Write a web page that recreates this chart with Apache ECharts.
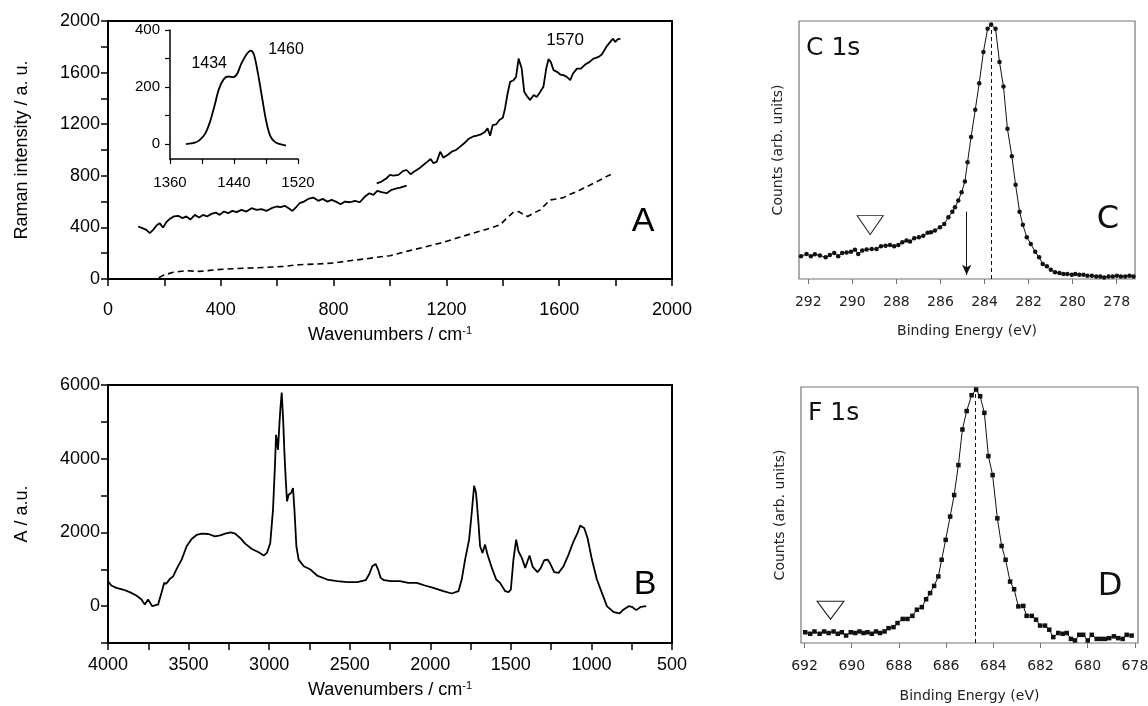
<!DOCTYPE html>
<html>
<head>
<meta charset="utf-8">
<script src="https://cdn.jsdelivr.net/npm/echarts@6/dist/echarts.min.js"></script>
<style>
  html, body { margin: 0; padding: 0; background: #fff; }
  #chart { width: 1148px; height: 706px; }
</style>
</head>
<body>
<div id="chart"></div>
<script>
// Panel A - Raman spectra (two solid pieces + dashed)
const aLowX = [107,122,136,148,160,172,183,195,207,219,233,249,264,278,292,308,323,337,351,367,382,396,411,426,441,456,473,491,509,527,544,562,580,598,612,627,643,654,669,680,695,710,728,746,761,778,793,808,825,840,858,876,893,911,927,941,955,970,988,1006,1024,1036,1059];
const aLowY = [407,394,381,356,381,415,433,399,441,466,485,490,472,485,461,497,477,497,485,505,515,497,523,510,528,518,536,523,549,536,541,528,549,562,557,567,544,528,562,588,600,621,631,606,621,600,613,600,580,600,595,606,595,639,665,652,683,673,665,691,703,709,724];
const aHighX = [953,970,988,1000,1012,1030,1047,1059,1073,1089,1104,1118,1133,1144,1154,1166,1178,1189,1204,1219,1234,1249,1263,1278,1293,1308,1322,1337,1346,1355,1364,1376,1388,1400,1408,1417,1426,1438,1447,1456,1462,1467,1476,1485,1497,1509,1521,1533,1544,1554,1562,1570,1580,1592,1604,1615,1627,1639,1649,1663,1677,1692,1708,1722,1740,1751,1767,1781,1791,1799,1807,1817];
const aHighY = [742,755,781,807,802,807,838,845,812,838,858,884,910,930,897,910,987,941,961,987,1000,1026,1052,1085,1103,1111,1121,1142,1168,1111,1193,1198,1232,1250,1322,1438,1528,1541,1567,1709,1722,1631,1451,1420,1387,1425,1412,1451,1490,1631,1704,1683,1619,1606,1585,1580,1567,1541,1593,1631,1631,1662,1683,1709,1722,1740,1799,1838,1863,1838,1858,1863];
const aDashX = [110,148,183,195,231,278,325,385,444,503,562,621,680,740,799,858,917,976,1000,1059,1118,1178,1237,1296,1355,1391,1414,1438,1456,1471,1488,1509,1533,1550,1568,1592,1615,1639,1663,1686,1710,1734,1757,1775,1787];
const aDashY = [0,-5,13,28,52,64,59,72,80,85,90,98,111,116,124,142,157,175,180,214,245,278,317,356,394,420,472,518,523,503,485,510,536,575,613,621,631,657,678,704,729,755,781,802,812];

// inset of panel A
const insetX = [1380,1391,1397,1404,1410,1416,1421,1427,1433,1439,1444,1449,1456,1461,1465,1470,1475,1480,1485,1491,1499,1505];
const insetY = [0,5,14,37,78,138,192,227,237,235,247,281,316,328,313,247,165,84,31,8,-1,-5];

// Panel B - IR spectrum
const bX = [4000,3979,3948,3907,3865,3824,3792,3772,3751,3740,3726,3709,3689,3668,3651,3637,3616,3595,3574,3543,3512,3481,3450,3419,3377,3336,3304,3273,3238,3211,3180,3149,3107,3065,3034,3014,2993,2976,2965,2957,2951,2945,2936,2930,2922,2913,2905,2897,2889,2879,2864,2852,2843,2831,2817,2785,2744,2702,2640,2578,2515,2453,2401,2380,2360,2339,2324,2308,2287,2245,2188,2136,2084,2033,1981,1919,1867,1825,1805,1784,1759,1743,1728,1716,1701,1691,1676,1660,1645,1618,1591,1567,1535,1515,1500,1484,1467,1453,1432,1411,1384,1364,1335,1314,1293,1272,1256,1231,1204,1173,1142,1111,1086,1070,1045,1024,997,966,935,904,862,825,800,769,749,722,693,660];
const bY = [677,560,496,451,379,289,180,45,180,162,0,18,45,361,632,614,740,812,1011,1263,1625,1823,1931,1967,1958,1895,1922,1967,2003,1967,1850,1697,1552,1462,1372,1444,1715,2617,3700,4648,4467,4242,4964,5370,5794,5054,4152,3430,2843,3023,3069,3204,2617,1625,1263,1083,993,830,722,677,650,650,704,857,1083,1146,993,767,704,677,677,632,632,560,496,406,343,406,722,1263,1805,2527,3267,3069,2256,1625,1444,1670,1399,1038,722,632,406,379,451,1263,1805,1489,1309,1038,1372,1065,921,1038,1245,1263,1155,921,902,1083,1399,1760,1985,2184,2121,1850,1263,722,361,0,-162,-199,-90,0,-18,-108,-18,0];

// Panel C - C 1s XPS
const cX = [292.33,292.08,291.88,291.70,291.47,291.21,291.02,290.82,290.64,290.46,290.26,290.06,289.88,289.73,289.55,289.35,289.12,288.90,288.70,288.49,288.29,288.10,287.91,287.73,287.54,287.38,287.19,286.98,286.78,286.58,286.43,286.25,286.02,285.83,285.64,285.46,285.34,285.19,285.04,284.89,284.77,284.61,284.42,284.24,284.05,283.86,283.70,283.50,283.32,283.14,282.96,282.76,282.59,282.41,282.26,282.08,281.90,281.70,281.52,281.36,281.17,280.99,280.80,280.60,280.42,280.24,280.04,279.88,279.70,279.51,279.33,279.13,278.93,278.75,278.57,278.37,278.18,277.99,277.81,277.61,277.42,277.24];
const cY = [8.8,9.7,8.8,9.6,9.1,8.4,9.3,10.1,8.8,10.1,10.3,10.6,11.3,9.7,11.0,11.4,11.6,11.6,12.7,12.9,13.2,12.7,13.2,14.2,14.9,14.5,15.8,16.2,16.8,17.9,18.1,18.8,20.1,21.3,23.9,26.1,27.8,30.4,33.6,37.8,45.3,55.0,65.6,75.9,88.0,97.0,98.6,97.0,84.1,74.6,58.2,47.6,36.5,26.1,21.0,16.2,13.6,10.6,8.4,5.8,4.9,3.6,2.6,2.3,1.9,1.9,1.6,1.9,1.6,1.6,1.3,1.3,1.0,1.0,0.6,1.0,1.0,1.3,1.0,1.0,1.3,1.0];

// Panel D - F 1s XPS
const dX = [691.97,691.76,691.58,691.36,691.17,690.98,690.77,690.59,690.42,690.24,690.04,689.85,689.67,689.50,689.33,689.15,688.97,688.80,688.61,688.44,688.23,688.06,687.84,687.64,687.43,687.24,687.03,686.85,686.68,686.51,686.33,686.19,686.02,685.83,685.66,685.48,685.31,685.13,684.92,684.73,684.56,684.38,684.21,684.03,683.83,683.65,683.48,683.29,683.12,682.94,682.73,682.59,682.37,682.19,682.02,681.81,681.63,681.46,681.25,681.06,680.89,680.71,680.54,680.36,680.19,680.00,679.83,679.62,679.45,679.27,679.09,678.89,678.71,678.52,678.35,678.14];
const dY = [4.2,3.6,4.5,3.6,4.5,3.9,4.5,3.6,4.2,2.9,4.2,3.9,4.5,3.9,4.2,3.6,4.5,3.9,4.5,5.8,6.2,7.8,9.4,9.4,10.6,13.0,14.0,17.1,19.5,22.3,26.0,32.5,40.3,49.4,57.8,69.5,83.4,90.6,96.8,99.0,96.4,89.9,73.0,65.6,48.7,37.9,32.5,24.0,21.0,14.3,14.5,10.6,10.6,9.1,6.8,6.8,5.2,2.3,3.9,3.6,3.9,1.6,1.0,3.2,3.2,1.0,3.2,1.6,1.6,1.6,1.9,2.6,1.9,1.6,3.2,2.9];

// tick labels
const cTicks = [278, 280, 282, 284, 286, 288, 290, 292];
const dTicks = [678, 680, 682, 684, 686, 688, 690, 692];
const insetYTicks = [0, 100, 200, 300, 400];
const insetYLabels = [0, 200, 400];

// peak positions / annotations
const cPeak = 283.7, cArrow = 284.81, cTriangle = 289.19;
const dPeak = 684.75, dTriangle = 690.9;

const zip = (xs, ys) => xs.map((x, i) => [x, ys[i]]);

const ARIAL = '"Liberation Sans", Arial, sans-serif';
const GENEVA = '"DejaVu Sans", sans-serif';

const wnName = {
  name: '{a|Wavenumbers / cm}{s|-1}',
  nameLocation: 'middle',
  nameTextStyle: {
    rich: {
      a: { fontFamily: ARIAL, fontSize: 18, color: '#000', lineHeight: 20 },
      s: { fontFamily: ARIAL, fontSize: 11, color: '#000', verticalAlign: 'top', lineHeight: 12 },
    },
  },
};

function blackAxis(fmt, fontSize, margin) {
  return {
    axisLine: { show: true, onZero: false, lineStyle: { color: '#000', width: 2 } },
    axisTick: { show: true, length: 7, lineStyle: { color: '#000', width: 1.5 } },
    axisLabel: { color: '#000', fontFamily: ARIAL, fontSize: fontSize || 18, formatter: fmt, margin: margin || 8 },
    splitLine: { show: false },
  };
}

function xpsX(min, max, ticks, gridIndex, gap) {
  return {
    type: 'value', gridIndex, min, max, inverse: true,
    axisLine: { show: false },
    axisTick: { show: true, customValues: ticks, length: 5, lineStyle: { color: '#777', width: 1 } },
    axisLabel: { customValues: ticks, color: '#222', fontFamily: GENEVA, fontSize: 14, margin: 16 },
    splitLine: { show: false },
    name: 'Binding Energy (eV)', nameLocation: 'middle', nameGap: gap,
    nameTextStyle: { color: '#222', fontFamily: GENEVA, fontSize: 14 },
  };
}

function xpsY(gridIndex) {
  return {
    type: 'value', gridIndex, min: 0, max: 100,
    axisLine: { show: false }, axisTick: { show: false }, axisLabel: { show: false },
    splitLine: { show: false },
    name: 'Counts (arb. units)', nameLocation: 'middle', nameGap: 14,
    nameTextStyle: { color: '#222', fontFamily: GENEVA, fontSize: 14 },
  };
}

const insetYAxis = blackAxis(null, 15, 10);
insetYAxis.axisLine.lineStyle.width = 1.5;
insetYAxis.axisTick = { show: true, length: 5, customValues: insetYTicks, lineStyle: { color: '#000', width: 1.2 } };
insetYAxis.axisLabel.customValues = insetYLabels;

const insetXAxis = blackAxis(v => ((v - 1360) % 80 === 0 ? String(v) : ''), 15, 16);
insetXAxis.axisLine.lineStyle.width = 1.5;
insetXAxis.axisTick.length = 5;
insetXAxis.axisTick.lineStyle.width = 1.2;

const chart = echarts.init(document.getElementById('chart'), null, { renderer: 'canvas' });

chart.setOption({
  animation: false,
  backgroundColor: '#fff',
  grid: [
    { left: 108, top: 21, width: 564, height: 258, show: true, borderColor: '#000', borderWidth: 2, outerBoundsMode: 'none' },
    { left: 170, top: 30, width: 128, height: 129, outerBoundsMode: 'none' },
    { left: 108, top: 385, width: 564, height: 258, show: true, borderColor: '#000', borderWidth: 2, outerBoundsMode: 'none' },
    { left: 799, top: 21, width: 336, height: 258, show: true, borderColor: '#777', borderWidth: 1.2, outerBoundsMode: 'none' },
    { left: 801, top: 387, width: 337, height: 256, show: true, borderColor: '#777', borderWidth: 1.2, outerBoundsMode: 'none' },
  ],
  xAxis: [
    Object.assign({ type: 'value', gridIndex: 0, min: 0, max: 2000, interval: 200 },
      blackAxis(v => (v % 400 === 0 ? String(v) : ''), 18, 22),
      wnName, { nameGap: 46 }),
    Object.assign({ type: 'value', gridIndex: 1, min: 1360, max: 1520, interval: 40 }, insetXAxis),
    Object.assign({ type: 'value', gridIndex: 2, min: 500, max: 4000, interval: 250, inverse: true },
      blackAxis(v => (v % 500 === 0 ? String(v) : ''), 18, 13),
      wnName, { nameGap: 37 }),
    xpsX(277.17, 292.42, cTicks, 3, 45),
    xpsX(677.87, 692.15, dTicks, 4, 46),
  ],
  yAxis: [
    Object.assign({ type: 'value', gridIndex: 0, min: 0, max: 2000, interval: 200 },
      blackAxis(v => (v % 400 === 0 ? String(v) : '')),
      { name: 'Raman intensity / a. u.', nameLocation: 'middle', nameGap: 77,
        nameTextStyle: { fontFamily: ARIAL, fontSize: 18, color: '#000' } }),
    Object.assign({ type: 'value', gridIndex: 1, min: -52, max: 400 }, insetYAxis),
    Object.assign({ type: 'value', gridIndex: 2, min: -1000, max: 6000, interval: 1000 },
      blackAxis(v => (v % 2000 === 0 ? String(v) : '')),
      { name: 'A / a.u.', nameLocation: 'middle', nameGap: 77,
        nameTextStyle: { fontFamily: ARIAL, fontSize: 18, color: '#000' } }),
    xpsY(3),
    xpsY(4),
  ],
  series: [
    {
      type: 'line', xAxisIndex: 0, yAxisIndex: 0, data: zip(aLowX, aLowY),
      showSymbol: false, lineStyle: { color: '#000', width: 1.8 },
    },
    {
      type: 'line', xAxisIndex: 0, yAxisIndex: 0, data: zip(aHighX, aHighY),
      showSymbol: false, lineStyle: { color: '#000', width: 1.8 },
      markPoint: {
        symbol: 'circle', symbolSize: 1, itemStyle: { color: 'rgba(0,0,0,0)' },
        label: { show: true, position: 'inside', color: '#000', fontFamily: ARIAL, fontSize: 17, formatter: p => p.name },
        data: [{ name: '1570', coord: [1621, 1850] }],
      },
    },
    {
      type: 'line', xAxisIndex: 0, yAxisIndex: 0, data: zip(aDashX, aDashY),
      showSymbol: false, lineStyle: { color: '#000', width: 1.6, type: [6, 4] },
    },
    {
      type: 'line', xAxisIndex: 1, yAxisIndex: 1, data: zip(insetX, insetY),
      showSymbol: false, smooth: 0.3, lineStyle: { color: '#000', width: 1.8 },
      markPoint: {
        symbol: 'circle', symbolSize: 1, itemStyle: { color: 'rgba(0,0,0,0)' },
        label: { show: true, position: 'inside', color: '#000', fontFamily: ARIAL, fontSize: 16, formatter: p => p.name },
        data: [{ name: '1434', coord: [1409, 284] }, { name: '1460', coord: [1505, 333] }],
      },
    },
    {
      type: 'line', xAxisIndex: 2, yAxisIndex: 2, data: zip(bX, bY),
      showSymbol: false, lineStyle: { color: '#000', width: 1.8 },
    },
    {
      type: 'line', xAxisIndex: 3, yAxisIndex: 3, data: zip(cX, cY),
      symbol: 'circle', symbolSize: 4.5, showSymbol: true,
      lineStyle: { color: '#111', width: 1 }, itemStyle: { color: '#111' },
      markLine: {
        silent: true, symbol: 'none', label: { show: false },
        lineStyle: { color: '#111', width: 1, type: [4, 3] },
        data: [
          [{ coord: [cPeak, 0] }, { coord: [cPeak, 98.6] }],
          [{ coord: [cArrow, 26.1], symbol: 'none' },
           { coord: [cArrow, 1.6], symbol: 'arrow', symbolSize: [7, 10], lineStyle: { type: 'solid' } }],
        ],
      },
      markPoint: {
        silent: true, label: { show: false },
        data: [{ coord: [cTriangle, 20.9], symbol: 'triangle', symbolRotate: 180, symbolSize: [26, 19],
          itemStyle: { color: '#fff', borderColor: '#222', borderWidth: 1 } }],
      },
    },
    {
      type: 'line', xAxisIndex: 4, yAxisIndex: 4, data: zip(dX, dY),
      symbol: 'rect', symbolSize: 4.5, showSymbol: true,
      lineStyle: { color: '#111', width: 1 }, itemStyle: { color: '#111' },
      markLine: {
        silent: true, symbol: 'none', label: { show: false },
        lineStyle: { color: '#111', width: 1, type: [4, 3] },
        data: [[{ coord: [dPeak, 0] }, { coord: [dPeak, 99] }]],
      },
      markPoint: {
        silent: true, label: { show: false },
        data: [{ coord: [dTriangle, 12.8], symbol: 'triangle', symbolRotate: 180, symbolSize: [27, 18],
          itemStyle: { color: '#fff', borderColor: '#222', borderWidth: 1 } }],
      },
    },
  ],
  graphic: [
    { type: 'text', x: 643, y: 222, style: { text: 'A', font: '34px ' + ARIAL, fill: '#000', align: 'center', verticalAlign: 'middle' } },
    { type: 'text', x: 645, y: 585, style: { text: 'B', font: '34px ' + ARIAL, fill: '#000', align: 'center', verticalAlign: 'middle' } },
    { type: 'text', x: 806, y: 48, style: { text: 'C 1s', font: '25px ' + GENEVA, fill: '#111', align: 'left', verticalAlign: 'middle' } },
    { type: 'text', x: 808, y: 413, style: { text: 'F 1s', font: '25px ' + GENEVA, fill: '#111', align: 'left', verticalAlign: 'middle' } },
    { type: 'text', x: 1108, y: 220, style: { text: 'C', font: '32px ' + GENEVA, fill: '#111', align: 'center', verticalAlign: 'middle' } },
    { type: 'text', x: 1110, y: 587, style: { text: 'D', font: '32px ' + GENEVA, fill: '#111', align: 'center', verticalAlign: 'middle' } },
  ],
});

window.addEventListener('resize', () => chart.resize());
</script>
</body>
</html>
